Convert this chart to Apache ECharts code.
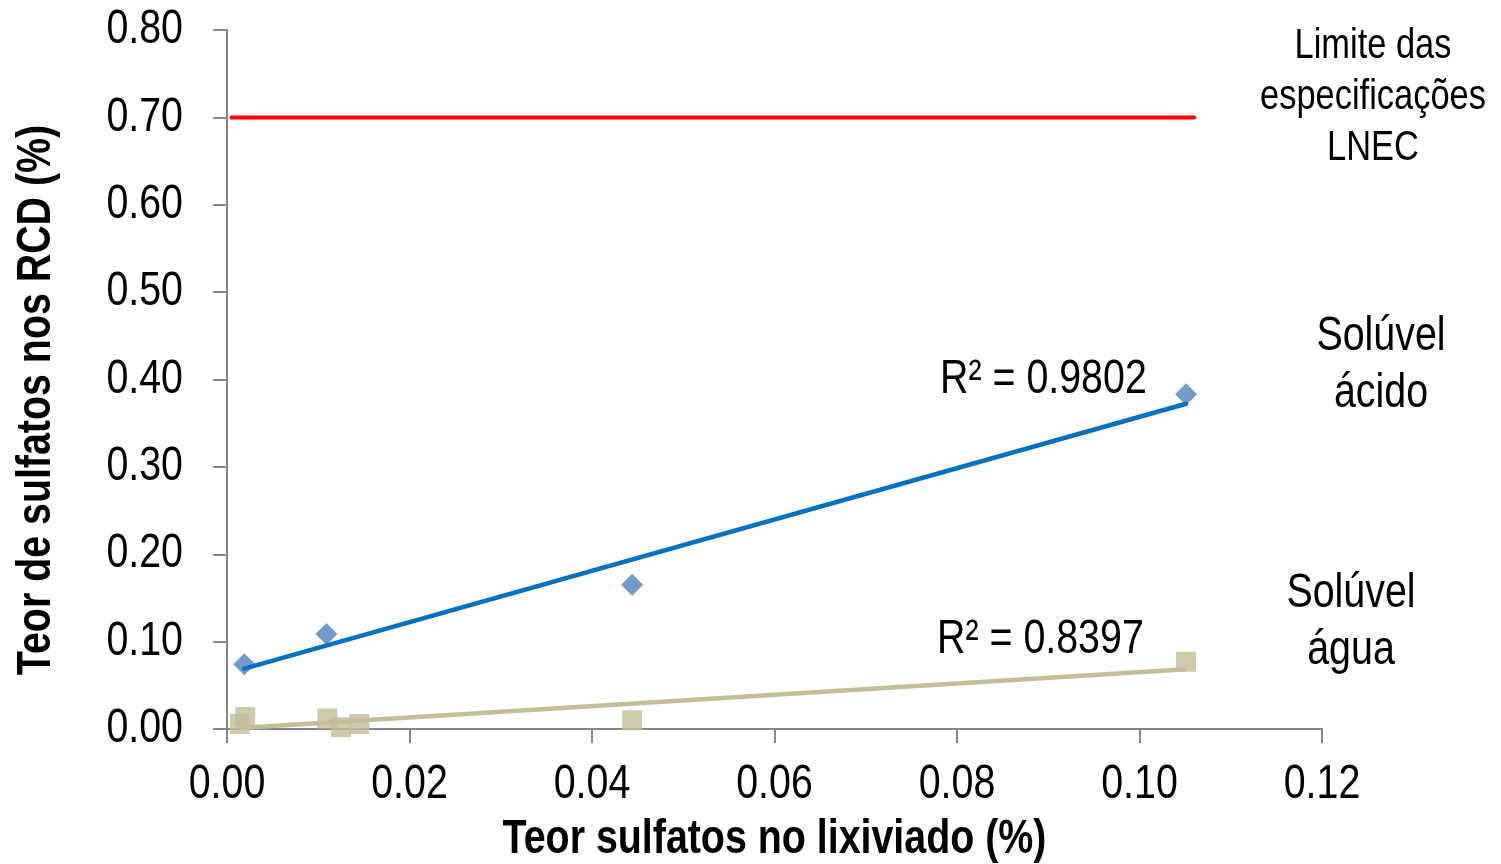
<!DOCTYPE html>
<html>
<head>
<meta charset="utf-8">
<script src="https://cdn.jsdelivr.net/npm/echarts@6/dist/echarts.min.js"></script>
<style>
html,body{margin:0;padding:0;background:#fff;}
#c{width:1501px;height:864px;}
</style>
</head>
<body>
<div id="c"></div>
<script>
// ---- Data ----
const acidX = [0.0019, 0.0109, 0.0444, 0.1051];
const acidY = [0.074, 0.1087, 0.165, 0.383];
const waterX = [0.0014, 0.0020, 0.0110, 0.0125, 0.0145, 0.0444, 0.1051];
const waterY = [0.0057, 0.0137, 0.0120, 0.0020, 0.0057, 0.0100, 0.0770];
const limitX = [0.0005, 0.106];
const limitY = [0.70, 0.70];
const xTicks = [0, 0.02, 0.04, 0.06, 0.08, 0.10, 0.12];
const yTicks = [0, 0.1, 0.2, 0.3, 0.4, 0.5, 0.6, 0.7, 0.8];
const xTitle = 'Teor sulfatos no lixiviado (%)';
const yTitle = 'Teor de sulfatos nos RCD (%)';
const r2Acid = 'R² = 0.9802';
const r2Water = 'R² = 0.8397';
const limitLabel = ['Limite das', 'especificações', 'LNEC'];
const acidLabel = ['Solúvel', 'ácido'];
const waterLabel = ['Solúvel', 'água'];

function pairs(xs, ys){ return xs.map((x,i)=>[x, ys[i]]); }
function trend(xs, ys){
  const n = xs.length;
  const mx = xs.reduce((a,b)=>a+b,0)/n, my = ys.reduce((a,b)=>a+b,0)/n;
  let sxy=0, sxx=0;
  for(let i=0;i<n;i++){ sxy+=(xs[i]-mx)*(ys[i]-my); sxx+=(xs[i]-mx)*(xs[i]-mx); }
  const b = sxy/sxx, a = my - b*mx;
  const x0 = Math.min(...xs), x1 = Math.max(...xs);
  return [[x0, a+b*x0],[x1, a+b*x1]];
}

const FONT = '"Liberation Sans", Arial, sans-serif';
const NARROW = 0.82; // emulate a narrow typeface
const chart = echarts.init(document.getElementById('c'));
const axisColor = '#868686';

chart.setOption({
  animation:false,
  grid:{left:227, right:179, top:30, bottom:135, containLabel:false},
  xAxis:{
    type:'value', min:0, max:0.12, interval:0.02,
    axisLine:{show:true, onZero:false, lineStyle:{color:axisColor, width:2}},
    axisTick:{show:true, inside:false, length:14, lineStyle:{color:axisColor, width:2}},
    splitLine:{show:false},
    axisLabel:{show:false}
  },
  yAxis:{
    type:'value', min:0, max:0.8, interval:0.1,
    axisLine:{show:true, lineStyle:{color:axisColor, width:2}},
    axisTick:{show:true, inside:false, length:14, lineStyle:{color:axisColor, width:2}},
    splitLine:{show:false},
    axisLabel:{show:false}
  },
  series:[
    {type:'line', data:pairs(limitX, limitY), symbol:'none',
      lineStyle:{color:'#FF0000', width:4, cap:'round'}, z:3},
    {type:'scatter', data:pairs(acidX, acidY), symbol:'diamond', symbolSize:[22,22],
      itemStyle:{color:'#4F81BD'}, z:2},
    {type:'scatter', data:pairs(waterX, waterY), symbol:'rect', symbolSize:[20,20],
      itemStyle:{color:'#C4BD97'}, z:4},
    {type:'line', data:trend(acidX, acidY), symbol:'none',
      lineStyle:{color:'#0070C0', width:4.5, cap:'round'}, z:3},
    {type:'line', data:trend(waterX, waterY), symbol:'none',
      lineStyle:{color:'#C4BD97', width:4.5}, z:3}
  ]
});

// ---- Text (narrow-scaled), positioned through the chart's own scales ----
function txt(text, x, y, size, align, opts){
  opts = opts || {};
  return {type:'text', x:x, y:y, rotation:opts.rotation||0, scaleX:NARROW, originX:0, originY:0, z:10,
    style:{text:text, font:(opts.bold?'bold ':'')+size+'px '+FONT, fill:'#000',
      align:align, verticalAlign:'middle'}};
}
const g = [];
const origin = chart.convertToPixel({gridIndex:0}, [0, 0]);
yTicks.forEach(v=>{
  const p = chart.convertToPixel({gridIndex:0}, [0, v]);
  g.push(txt(v.toFixed(2), origin[0]-44, p[1], 48, 'right'));
});
xTicks.forEach(v=>{
  const p = chart.convertToPixel({gridIndex:0}, [v, 0]);
  g.push(txt(v.toFixed(2), p[0], origin[1]+56, 48, 'center'));
});
const right = chart.convertToPixel({gridIndex:0}, [0.12, 0.8]);
g.push(txt(xTitle, (origin[0]+right[0])/2, 840, 48, 'center', {bold:true}));
g.push(txt(yTitle, 37, 400, 48, 'center', {bold:true, rotation:Math.PI/2}));
g.push(txt(r2Acid, 940, 380, 48, 'left'));
g.push(txt(r2Water, 937, 640, 48, 'left'));
limitLabel.forEach((s,i)=>g.push(txt(s, 1373, 46+i*51, 42, 'center')));
acidLabel.forEach((s,i)=>g.push(txt(s, 1381, 337+i*57, 48, 'center')));
waterLabel.forEach((s,i)=>g.push(txt(s, 1351, 594+i*57, 48, 'center')));
chart.setOption({graphic:g});
</script>
</body>
</html>
